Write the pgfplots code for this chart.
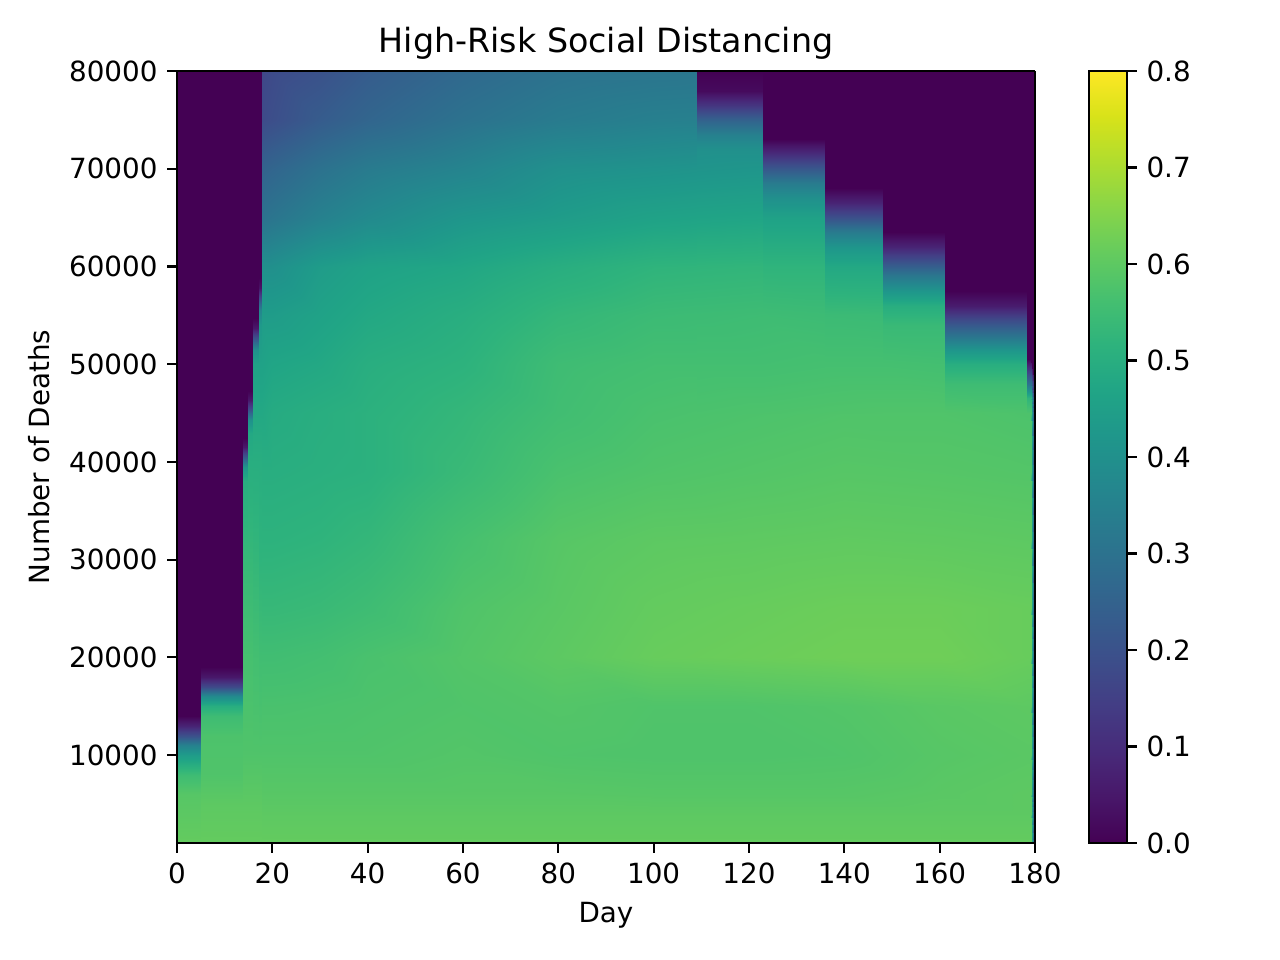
\documentclass[border=0pt]{standalone}
\usepackage{fontspec}
\setmainfont{DejaVu Sans}
\usepackage{pgfplots}
\pgfplotsset{compat=1.18}
\pgfplotsset{/pgf/number format/assume math mode=true}
\begin{document}
\begin{tikzpicture}
\useasboundingbox (-63.72pt,-42.12pt) rectangle (397.08pt,303.48pt);
\begin{axis}[
  at={(0,0)}, anchor=south west,
  scale only axis, width=308.88pt, height=277.92pt,
  view={0}{90},
  xmin=0, xmax=180, ymin=1000, ymax=80000,
  colormap/viridis,
  point meta min=0, point meta max=0.8,
  xtick={0,20,40,60,80,100,120,140,160,180},
  ytick={10000,20000,30000,40000,50000,60000,70000,80000},
  scaled ticks=false,
  yticklabel style={/pgf/number format/.cd,fixed,1000 sep={}},
  tick align=outside, major tick length=3.5pt,
  tick pos=left,
  every tick/.style={black, line width=0.8pt},
  axis line style={line width=0.8pt},
  axis on top,
  title={High-Risk Social Distancing},
  title style={font=\fontsize{12}{14}\selectfont, yshift=-5.4pt},
  xlabel={Day}, ylabel={Number of Deaths},
  tick label style={font=\fontsize{10}{12}\selectfont},
  label style={font=\fontsize{10}{12}\selectfont},
  colorbar,
  colorbar style={
    at={(parent axis.north east)}, anchor=north west, xshift=10.9pt,
    scale only axis, width=13.68pt, height=277.92pt,
    ytick={0,0.1,0.2,0.3,0.4,0.5,0.6,0.7,0.8},
    yticklabel style={/pgf/number format/.cd,fixed,fixed zerofill,precision=1},
    tick align=outside, major tick length=3.5pt,
    ytick pos=right, yticklabel pos=right,
    every tick/.style={black, line width=0.8pt},
    axis line style={line width=0.8pt},
    tick label style={font=\fontsize{10}{12}\selectfont},
  },
]
% block 1: days 0-5
\addplot3[surf, shader=interp, mesh/cols=2, point meta=z] table {
0 1000 0.61
5.4 1000 0.61
0 6000 0.59
5.4 6000 0.59
0 8000 0.55
5.4 8000 0.55
0 9000 0.50
5.4 9000 0.50
0 10000 0.44
5.4 10000 0.44
0 11000 0.35
5.4 11000 0.35
0 12000 0.20
5.4 12000 0.20
0 13000 0.08
5.4 13000 0.08
0 14000 0.00
5.4 14000 0.00
0 80000 0.00
5.4 80000 0.00
};
% block 2: days 5-13.8
\addplot3[surf, shader=interp, mesh/cols=2, point meta=z] table {
5.1 1000 0.61
14.1 1000 0.61
5.1 5000 0.60
14.1 5000 0.60
5.1 8000 0.58
14.1 8000 0.58
5.1 12000 0.575
14.1 12000 0.575
5.1 14000 0.55
14.1 14000 0.55
5.1 15000 0.50
14.1 15000 0.50
5.1 16000 0.38
14.1 16000 0.38
5.1 17000 0.18
14.1 17000 0.18
5.1 18000 0.05
14.1 18000 0.05
5.1 19000 0.00
14.1 19000 0.00
5.1 80000 0.00
14.1 80000 0.00
};
% block 3: days 13.8-14.9
\addplot3[surf, shader=interp, mesh/cols=2, point meta=z] table {
13.8 1000 0.61
15.2 1000 0.61
13.8 5000 0.60
15.2 5000 0.60
13.8 10000 0.58
15.2 10000 0.58
13.8 20000 0.565
15.2 20000 0.565
13.8 30000 0.535
15.2 30000 0.535
13.8 38000 0.50
15.2 38000 0.50
13.8 39500 0.42
15.2 39500 0.42
13.8 40500 0.22
15.2 40500 0.22
13.8 41500 0.05
15.2 41500 0.05
13.8 42500 0.00
15.2 42500 0.00
13.8 80000 0.00
15.2 80000 0.00
};
% block 4: days 14.9-16.0
\addplot3[surf, shader=interp, mesh/cols=2, point meta=z] table {
14.9 1000 0.61
16.3 1000 0.61
14.9 5000 0.60
16.3 5000 0.60
14.9 10000 0.58
16.3 10000 0.58
14.9 20000 0.565
16.3 20000 0.565
14.9 30000 0.535
16.3 30000 0.535
14.9 40000 0.50
16.3 40000 0.50
14.9 43000 0.48
16.3 43000 0.48
14.9 44300 0.40
16.3 44300 0.40
14.9 45300 0.20
16.3 45300 0.20
14.9 46300 0.05
16.3 46300 0.05
14.9 47300 0.00
16.3 47300 0.00
14.9 80000 0.00
16.3 80000 0.00
};
% block 5: days 16.0-17.3
\addplot3[surf, shader=interp, mesh/cols=2, point meta=z] table {
16.0 1000 0.61
17.6 1000 0.61
16.0 5000 0.60
17.6 5000 0.60
16.0 10000 0.58
17.6 10000 0.58
16.0 20000 0.56
17.6 20000 0.56
16.0 30000 0.53
17.6 30000 0.53
16.0 40000 0.50
17.6 40000 0.50
16.0 45000 0.48
17.6 45000 0.48
16.0 50000 0.46
17.6 50000 0.46
16.0 51500 0.40
17.6 51500 0.40
16.0 52700 0.20
17.6 52700 0.20
16.0 53700 0.05
17.6 53700 0.05
16.0 54700 0.00
17.6 54700 0.00
16.0 80000 0.00
17.6 80000 0.00
};
% block 6: days 17.3-17.8
\addplot3[surf, shader=interp, mesh/cols=2, point meta=z] table {
17.3 1000 0.61
18.1 1000 0.61
17.3 5000 0.60
18.1 5000 0.60
17.3 10000 0.58
18.1 10000 0.58
17.3 20000 0.555
18.1 20000 0.555
17.3 30000 0.52
18.1 30000 0.52
17.3 40000 0.50
18.1 40000 0.50
17.3 50000 0.46
18.1 50000 0.46
17.3 54000 0.43
18.1 54000 0.43
17.3 55500 0.36
18.1 55500 0.36
17.3 56800 0.18
18.1 56800 0.18
17.3 57800 0.04
18.1 57800 0.04
17.3 58800 0.00
18.1 58800 0.00
17.3 80000 0.00
18.1 80000 0.00
};
% block 7: bulk, days 17.8-178.4
\addplot3[surf, shader=interp, mesh/cols=11, point meta=z] table {
17.8 1000 0.61
20 1000 0.61
30 1000 0.61
40 1000 0.61
60 1000 0.61
80 1000 0.61
100 1000 0.61
120 1000 0.61
140 1000 0.61
160 1000 0.61
178.6 1000 0.61
17.8 4000 0.60
20 4000 0.60
30 4000 0.60
40 4000 0.60
60 4000 0.60
80 4000 0.60
100 4000 0.60
120 4000 0.60
140 4000 0.60
160 4000 0.60
178.6 4000 0.60
17.8 6000 0.592
20 6000 0.592
30 6000 0.592
40 6000 0.592
60 6000 0.592
80 6000 0.592
100 6000 0.59
120 6000 0.59
140 6000 0.59
160 6000 0.595
178.6 6000 0.60
17.8 10000 0.58
20 10000 0.58
30 10000 0.58
40 10000 0.58
60 10000 0.585
80 10000 0.58
100 10000 0.578
120 10000 0.578
140 10000 0.58
160 10000 0.59
178.6 10000 0.595
17.8 15000 0.57
20 15000 0.57
30 15000 0.572
40 15000 0.575
60 15000 0.58
80 15000 0.585
100 15000 0.58
120 15000 0.58
140 15000 0.585
160 15000 0.595
178.6 15000 0.60
17.8 20000 0.555
20 20000 0.555
30 20000 0.56
40 20000 0.57
60 20000 0.585
80 20000 0.60
100 20000 0.615
120 20000 0.62
140 20000 0.625
160 20000 0.625
178.6 20000 0.615
17.8 25000 0.535
20 25000 0.535
30 25000 0.54
40 25000 0.55
60 25000 0.58
80 25000 0.595
100 25000 0.61
120 25000 0.615
140 25000 0.62
160 25000 0.62
178.6 25000 0.615
17.8 32000 0.515
20 32000 0.515
30 32000 0.52
40 32000 0.53
60 32000 0.565
80 32000 0.59
100 32000 0.60
120 32000 0.602
140 32000 0.605
160 32000 0.603
178.6 32000 0.60
17.8 39000 0.50
20 39000 0.50
30 39000 0.505
40 39000 0.51
60 39000 0.54
80 39000 0.57
100 39000 0.58
120 39000 0.585
140 39000 0.59
160 39000 0.588
178.6 39000 0.585
17.8 45000 0.48
20 45000 0.49
30 45000 0.50
40 45000 0.51
60 45000 0.53
80 45000 0.555
100 45000 0.57
120 45000 0.575
140 45000 0.58
160 45000 0.58
178.6 45000 0.575
17.8 50000 0.46
20 50000 0.47
30 50000 0.48
40 50000 0.50
60 50000 0.515
80 50000 0.55
100 50000 0.56
120 50000 0.56
140 50000 0.565
160 50000 0.56
178.6 50000 0.56
17.8 55000 0.44
20 55000 0.44
30 55000 0.46
40 55000 0.48
60 55000 0.50
80 55000 0.53
100 55000 0.545
120 55000 0.55
140 55000 0.545
160 55000 0.54
178.6 55000 0.54
17.8 60000 0.40
20 60000 0.40
30 60000 0.44
40 60000 0.46
60 60000 0.475
80 60000 0.50
100 60000 0.52
120 60000 0.525
140 60000 0.52
160 60000 0.52
178.6 60000 0.52
17.8 65000 0.30
20 65000 0.31
30 65000 0.35
40 65000 0.38
60 65000 0.42
80 65000 0.44
100 65000 0.46
120 65000 0.47
140 65000 0.47
160 65000 0.47
178.6 65000 0.47
17.8 70000 0.25
20 70000 0.26
30 70000 0.30
40 70000 0.33
60 70000 0.36
80 70000 0.40
100 70000 0.41
120 70000 0.42
140 70000 0.42
160 70000 0.42
178.6 70000 0.42
17.8 75000 0.18
20 75000 0.19
30 75000 0.23
40 75000 0.26
60 75000 0.30
80 75000 0.33
100 75000 0.345
120 75000 0.35
140 75000 0.35
160 75000 0.35
178.6 75000 0.35
17.8 80000 0.17
20 80000 0.18
30 80000 0.20
40 80000 0.23
60 80000 0.27
80 80000 0.30
100 80000 0.31
120 80000 0.32
140 80000 0.32
160 80000 0.32
178.6 80000 0.32
};
% block 8: days 109.1-123, upper part
\addplot3[surf, shader=interp, mesh/cols=2, point meta=z] table {
109.1 45000 0.572
123.3 45000 0.575
109.1 50000 0.56
123.3 50000 0.56
109.1 55000 0.547
123.3 55000 0.55
109.1 60000 0.522
123.3 60000 0.525
109.1 65000 0.465
123.3 65000 0.47
109.1 70000 0.415
123.3 70000 0.42
109.1 72000 0.40
123.3 72000 0.40
109.1 73500 0.35
123.3 73500 0.35
109.1 75000 0.25
123.3 75000 0.25
109.1 76500 0.12
123.3 76500 0.12
109.1 78000 0.02
123.3 78000 0.02
109.1 80000 0.00
123.3 80000 0.00
};
% block 9: days 123-136, upper part
\addplot3[surf, shader=interp, mesh/cols=2, point meta=z] table {
123 45000 0.575
136.3 45000 0.578
123 50000 0.56
136.3 50000 0.563
123 55000 0.55
136.3 55000 0.547
123 60000 0.52
136.3 60000 0.52
123 65000 0.46
136.3 65000 0.46
123 67000 0.40
136.3 67000 0.40
123 68500 0.33
136.3 68500 0.33
123 70000 0.22
136.3 70000 0.22
123 71500 0.10
136.3 71500 0.10
123 73000 0.00
136.3 73000 0.00
123 80000 0.00
136.3 80000 0.00
};
% block 10: days 136-148.2, upper part
\addplot3[surf, shader=interp, mesh/cols=2, point meta=z] table {
136 45000 0.578
148.5 45000 0.58
136 50000 0.563
148.5 50000 0.563
136 55000 0.545
148.5 55000 0.543
136 60000 0.48
148.5 60000 0.48
136 62000 0.42
148.5 62000 0.42
136 63500 0.33
148.5 63500 0.33
136 65000 0.20
148.5 65000 0.20
136 66500 0.08
148.5 66500 0.08
136 68000 0.00
148.5 68000 0.00
136 80000 0.00
148.5 80000 0.00
};
% block 11: days 148.2-161.1, upper part
\addplot3[surf, shader=interp, mesh/cols=2, point meta=z] table {
148.2 45000 0.58
161.4 45000 0.58
148.2 50000 0.563
161.4 50000 0.56
148.2 54000 0.54
161.4 54000 0.54
148.2 56000 0.50
161.4 56000 0.50
148.2 57500 0.42
161.4 57500 0.42
148.2 59000 0.32
161.4 59000 0.32
148.2 60500 0.20
161.4 60500 0.20
148.2 62000 0.08
161.4 62000 0.08
148.2 63500 0.00
161.4 63500 0.00
148.2 80000 0.00
161.4 80000 0.00
};
% block 12: days 161.1-178.4, upper part
\addplot3[surf, shader=interp, mesh/cols=2, point meta=z] table {
161.1 45000 0.58
178.7 45000 0.575
161.1 48000 0.55
178.7 48000 0.55
161.1 50000 0.50
178.7 50000 0.50
161.1 51500 0.42
178.7 51500 0.42
161.1 53000 0.30
178.7 53000 0.30
161.1 54500 0.18
178.7 54500 0.18
161.1 56000 0.06
178.7 56000 0.06
161.1 57500 0.00
178.7 57500 0.00
161.1 80000 0.00
178.7 80000 0.00
};
% block 13: days 178.4-180
\addplot3[surf, shader=interp, mesh/cols=3, point meta=z] table {
178.4 1000 0.61
179.2 1000 0.61
180 1000 0.00
178.4 4000 0.60
179.2 4000 0.60
180 4000 0.00
178.4 6000 0.60
179.2 6000 0.60
180 6000 0.00
178.4 10000 0.595
179.2 10000 0.595
180 10000 0.00
178.4 15000 0.60
179.2 15000 0.60
180 15000 0.00
178.4 20000 0.615
179.2 20000 0.615
180 20000 0.00
178.4 25000 0.615
179.2 25000 0.615
180 25000 0.00
178.4 32000 0.60
179.2 32000 0.60
180 32000 0.00
178.4 39000 0.585
179.2 39000 0.585
180 39000 0.00
178.4 45000 0.575
179.2 45000 0.575
180 45000 0.00
178.4 46500 0.52
179.2 46500 0.52
180 46500 0.00
178.4 48000 0.30
179.2 48000 0.30
180 48000 0.00
178.4 50500 0.00
179.2 50500 0.00
180 50500 0.00
178.4 80000 0.00
179.2 80000 0.00
180 80000 0.00
};
\end{axis}
\end{tikzpicture}
\end{document}
